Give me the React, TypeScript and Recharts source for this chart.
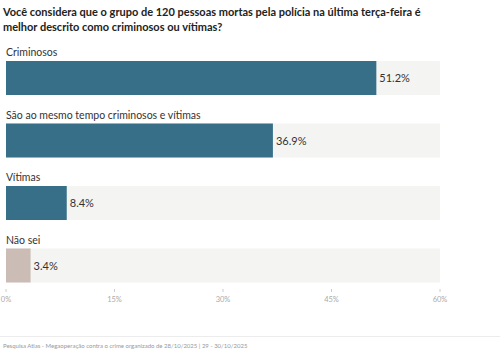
import { BarChart, Bar, XAxis, YAxis, Cell, LabelList } from "recharts";

const categories = [
  "Criminosos",
  "São ao mesmo tempo criminosos e vítimas",
  "Vítimas",
  "Não sei",
];
const values = [51.2, 36.9, 8.4, 3.4];
const barColors = ["#376f89", "#376f89", "#376f89", "#cbbdb6"];
const xTicks = [0, 15, 30, 45, 60];

const data = categories.map((name, i) => ({ name, value: values[i] }));

const font = "Lato, 'Noto Sans', sans-serif";

const NameLabel = (props: any) => {
  const { x, y, value } = props;
  return (
    <text x={x} y={y - 5} fill="#333" fontSize={10.5} fontFamily={font}>
      {value}
    </text>
  );
};

const ValueLabel = (props: any) => {
  const { x, y, width, height, value } = props;
  return (
    <text
      x={x + width + 3}
      y={y + height / 2}
      dy={4}
      fill="#333"
      fontSize={11}
      fontFamily={font}
    >
      {value.toFixed(1)}%
    </text>
  );
};

const Tick = (props: any) => {
  const { x, y, payload } = props;
  return (
    <g>
      <line x1={x} x2={x} y1={y - 16} y2={y - 13} stroke="#ccc" />
      <text
        x={x}
        y={y - 3}
        textAnchor="middle"
        fill="#aaa"
        fontSize={7.5}
        fontFamily={font}
      >
        {payload.value}%
      </text>
    </g>
  );
};

export default function App() {
  return (
    <div
      style={{
        position: "absolute",
        left: 0,
        top: 0,
        width: 500,
        height: 354,
        background: "#fff",
        fontFamily: font,
      }}
    >
      <div
        style={{
          position: "absolute",
          left: 3,
          top: 4,
          width: 480,
          fontSize: 11,
          fontWeight: 700,
          lineHeight: "15px",
          color: "#222",
        }}
      >
        Você considera que o grupo de 120 pessoas mortas pela polícia na última terça-feira é
        <br />
        melhor descrito como criminosos ou vítimas?
      </div>
      <div style={{ position: "absolute", left: 0, top: 0 }}>
        <BarChart
          width={500}
          height={317}
          data={data}
          layout="vertical"
          margin={{ top: 47, right: 60, bottom: 0, left: 6 }}
          barSize={34}
        >
          <XAxis
            type="number"
            domain={[0, 60]}
            ticks={xTicks}
            axisLine={false}
            tickLine={false}
            tick={<Tick />}
            height={20}
          />
          <YAxis type="category" dataKey="name" hide />
          <Bar
            dataKey="value"
            isAnimationActive={false}
            background={{ fill: "#f4f4f2" }}
          >
            {data.map((d, i) => (
              <Cell key={d.name} fill={barColors[i]} />
            ))}
            <LabelList dataKey="name" content={<NameLabel />} />
            <LabelList dataKey="value" content={<ValueLabel />} />
          </Bar>
        </BarChart>
      </div>
      <div
        style={{
          position: "absolute",
          left: 0,
          top: 336,
          width: 500,
          borderTop: "1px solid #ececec",
        }}
      />
      <div
        style={{
          position: "absolute",
          left: 3,
          top: 342,
          fontSize: 6,
          color: "#999",
          whiteSpace: "nowrap",
        }}
      >
        Pesquisa Atlas - Megaoperação contra o crime organizado de 28/10/2025 | 29 - 30/10/2025
      </div>
    </div>
  );
}
